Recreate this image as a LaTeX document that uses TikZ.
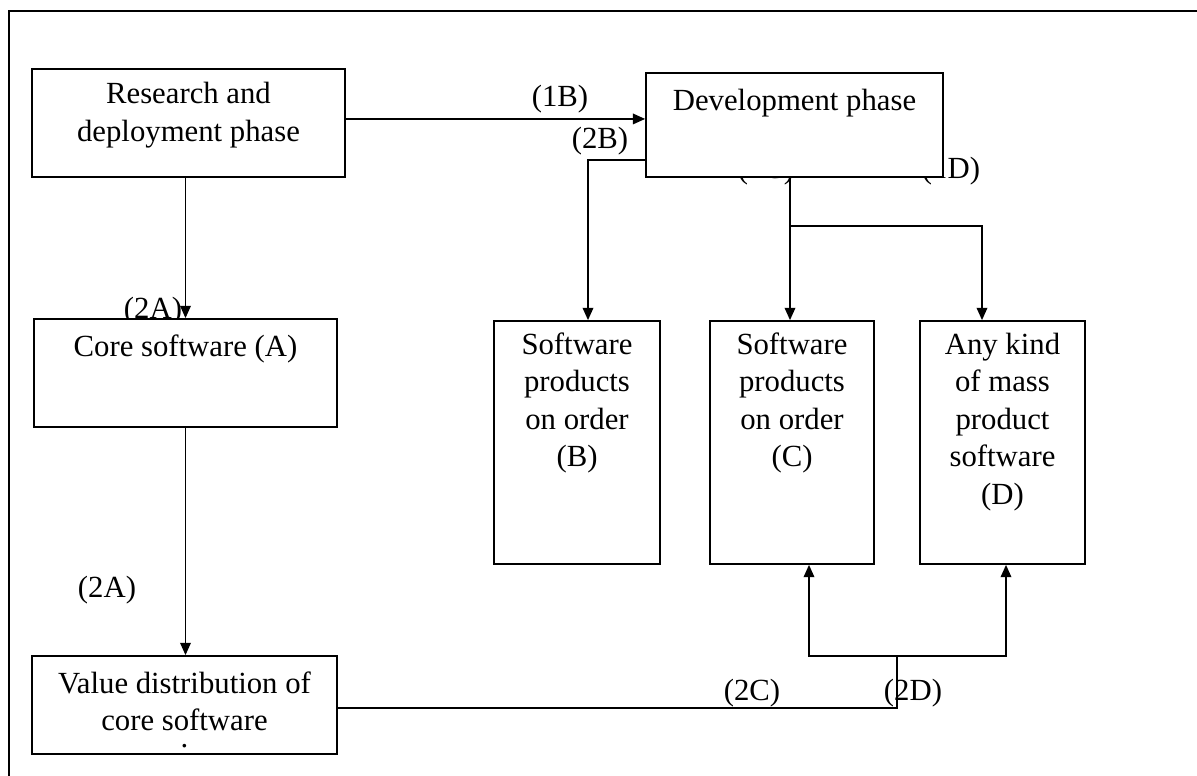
\documentclass[tikz,border=0pt]{standalone}
\usepackage{fontspec}
\setmainfont{Liberation Serif}
\usetikzlibrary{arrows.meta}

% box text: width, height, first baseline offset, text
\newcommand{\stagetext}[4]{\parbox[t][#2][t]{#1}{\centering\rule{0pt}{#3}#4}}

\begin{document}
\begin{tikzpicture}[x=0.02cm,y=-0.02cm,font=\fontsize{17.5}{21.4}\selectfont]
    \useasboundingbox (0,0) rectangle (1197,776);
    \draw[line width=1pt] (9,776) -- (9,11) -- (1197,11);

    % flow labels (some sit behind the boxes)
    \node (l1B) at (560,99) {(1B)};
    \node (l2B) at (600,141) {(2B)};
    \node (l1C) at (766,171) {(1C)};
    \node (l1D) at (951,171) {(1D)};
    \node (l2Atop) at (153,311) {(2A)};
    \node (l2Abot) at (107,590) {(2A)};
    \node (l2C) at (752,693) {(2C)};
    \node (l2D) at (913,693) {(2D)};

    \begin{scope}[every node/.style={draw,fill=white,inner sep=0pt,line width=1pt}]
      \node (research) at (188.5,123) {\stagetext{6.26cm}{2.16cm}{0.70cm}{Research and\\deployment phase}};
      \node (develop) at (794.5,125) {\stagetext{5.94cm}{2.08cm}{0.76cm}{Development phase}};
      \node (core) at (185.5,373) {\stagetext{6.06cm}{2.16cm}{0.76cm}{Core software (A)}};
      \node (value) at (184.5,705) {\stagetext{6.10cm}{1.96cm}{0.74cm}{Value distribution of\\core software\\[-12pt].}};
      \node (prodB) at (577,442.5) {\stagetext{3.32cm}{4.86cm}{0.66cm}{Software\\products\\on order\\(B)}};
      \node (prodC) at (792,442.5) {\stagetext{3.28cm}{4.86cm}{0.66cm}{Software\\products\\on order\\(C)}};
      \node (massD) at (1002.5,442.5) {\stagetext{3.30cm}{4.86cm}{0.66cm}{Any kind\\of mass\\product\\software\\(D)}};
    \end{scope}

    \coordinate (splitB) at (588,160);
    \coordinate (splitCD) at (790,226);
    \coordinate (toD) at (982,226);
    \coordinate (joinCD) at (897,656);
    \coordinate (upC) at (809,656);
    \coordinate (upD) at (1006,656);

    \begin{scope}[>={Triangle[length=7pt,width=6pt]},line width=1pt]
      \draw[->] ([yshift=2.3pt]research.east) -- ([yshift=2.3pt]research.east -| develop.west);
      \draw[->] (core.north |- research.south) -- (core.north);
      \draw[->] (core.south) -- (core.south |- value.north);
      \draw[->] (splitB -| develop.west) -- (splitB) -- (splitB |- prodB.north);
      \draw[->] (splitCD |- develop.south) -- (splitCD |- prodC.north);
      \draw[->] (splitCD) -- (toD) -- (toD |- massD.north);
      \draw ([yshift=-1.7pt]value.east) -- ([yshift=-1.7pt]value.east -| joinCD) -- (joinCD);
      \draw[->] (joinCD) -- (upC) -- (upC |- prodC.south);
      \draw[->] (joinCD) -- (upD) -- (upD |- massD.south);
    \end{scope}
\end{tikzpicture}
\end{document}
